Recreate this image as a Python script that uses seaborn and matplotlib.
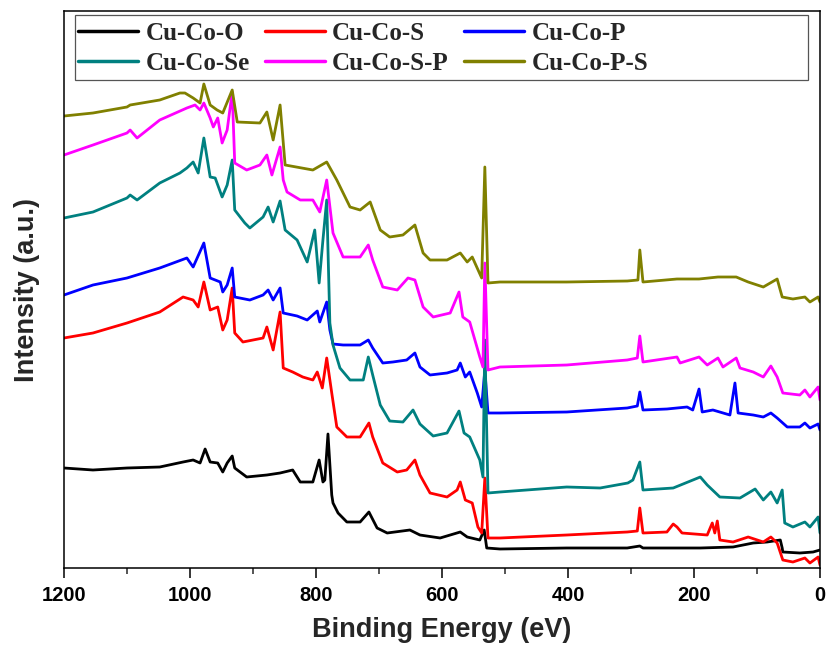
import matplotlib
matplotlib.use("Agg")
import matplotlib.pyplot as plt
from matplotlib.lines import Line2D
from matplotlib.patches import Rectangle
from matplotlib.ticker import MultipleLocator
import pandas as pd
import seaborn as sns

# XPS survey spectra (binding energy in eV, intensity in arbitrary units, stacked)
samples = ["Cu-Co-O", "Cu-Co-S", "Cu-Co-P", "Cu-Co-Se", "Cu-Co-S-P", "Cu-Co-P-S"]
colors = ["#000000", "#ff0000", "#0000ff", "#008080", "#ff00ff", "#808000"]

energy_o = [1200, 1154, 1100, 1048, 1011, 995, 984, 976, 968, 956, 948, 941, 933, 929, 910,
            878, 857, 837, 825, 805, 795, 789, 786, 781, 775, 773, 765, 751, 730, 716, 703,
            687, 651, 635, 603, 571, 560, 540, 533, 529, 508, 402, 306, 286, 281, 190, 138,
            106, 84, 63, 60, 59, 32, 11, 0]
intensity_o = [100, 98, 100, 101, 106, 108, 105, 119, 106, 105, 96, 105, 112, 100, 91,
               93, 95, 98, 86, 86, 108, 86, 88, 134, 73, 65, 55, 46, 46, 56, 40,
               35, 38, 33, 30, 36, 31, 28, 38, 20, 19, 20, 20, 22, 20, 20, 21,
               25, 26, 28, 20, 16, 15, 16, 18]

energy_s = [1200, 1154, 1100, 1048, 1011, 995, 987, 978, 968, 956, 948, 941, 933, 929, 916,
            900, 884, 878, 868, 857, 852, 837, 821, 805, 798, 790, 783, 775, 767, 751, 730,
            716, 710, 694, 671, 656, 643, 635, 619, 592, 576, 571, 563, 552, 543, 537, 532,
            527, 508, 402, 306, 290, 286, 281, 243, 233, 227, 219, 179, 171, 167, 163, 159,
            138, 114, 90, 78, 68, 59, 43, 24, 16, 3, 0]
intensity_s = [230, 235, 245, 256, 271, 268, 261, 286, 258, 261, 238, 248, 280, 235, 226,
               228, 230, 241, 218, 256, 200, 196, 191, 188, 196, 180, 210, 175, 141, 131, 131,
               145, 131, 105, 96, 98, 108, 93, 75, 71, 78, 86, 68, 65, 41, 35, 90,
               30, 30, 33, 36, 37, 60, 35, 36, 44, 41, 35, 33, 45, 35, 47, 28,
               26, 31, 26, 31, 25, 8, 6, 10, 5, 11, 3]

energy_p = [1200, 1154, 1100, 1048, 1005, 995, 978, 968, 952, 948, 941, 933, 929, 905, 884,
            876, 868, 857, 852, 830, 814, 798, 794, 783, 778, 773, 757, 730, 717, 710, 694,
            678, 656, 643, 635, 619, 592, 576, 571, 563, 556, 544, 537, 532, 527, 508, 402,
            306, 290, 286, 281, 243, 211, 202, 192, 187, 170, 143, 135, 130, 106, 90, 78,
            68, 52, 32, 24, 16, 3, 0]
intensity_p = [273, 283, 290, 300, 310, 301, 325, 290, 286, 276, 283, 300, 271, 268, 273,
               278, 268, 280, 255, 252, 248, 257, 246, 266, 238, 224, 223, 223, 228, 220, 205,
               206, 208, 215, 201, 193, 195, 198, 205, 191, 196, 175, 161, 198, 155, 155, 156,
               160, 162, 176, 158, 159, 161, 158, 179, 156, 158, 153, 185, 155, 153, 151, 155,
               150, 141, 141, 145, 140, 144, 138]

energy_se = [1200, 1154, 1100, 1095, 1084, 1048, 1016, 1005, 995, 987, 978, 968, 960, 949, 941,
             933, 929, 913, 905, 884, 876, 868, 857, 849, 830, 814, 802, 795, 789, 783, 778,
             773, 762, 746, 735, 725, 717, 710, 698, 683, 662, 646, 635, 614, 592, 573, 565,
             556, 540, 535, 532, 527, 508, 402, 349, 305, 297, 286, 281, 233, 190, 179, 159,
             127, 103, 90, 78, 68, 60, 56, 43, 24, 16, 3, 0]
intensity_se = [350, 356, 370, 373, 368, 385, 395, 400, 406, 395, 430, 391, 390, 371, 383,
                408, 358, 345, 340, 351, 361, 346, 367, 338, 328, 306, 338, 285, 328, 368, 245,
                223, 200, 188, 188, 188, 211, 193, 163, 147, 146, 158, 144, 132, 135, 157, 135,
                131, 108, 91, 228, 75, 76, 81, 80, 85, 88, 106, 78, 80, 91, 83, 71,
                70, 79, 68, 76, 65, 78, 45, 41, 46, 41, 51, 35]

energy_sp = [1200, 1154, 1100, 1095, 1084, 1048, 1005, 992, 984, 978, 968, 963, 956, 949, 941,
             933, 929, 910, 889, 878, 870, 857, 852, 846, 825, 805, 794, 783, 773, 757, 730,
             717, 710, 694, 671, 654, 643, 630, 614, 587, 573, 567, 556, 540, 535, 532, 527,
             508, 402, 306, 290, 286, 281, 227, 222, 192, 179, 162, 154, 133, 127, 106, 90,
             78, 68, 59, 32, 24, 16, 3, 0]
intensity_sp = [413, 423, 435, 438, 430, 448, 460, 463, 458, 465, 450, 441, 450, 425, 438,
                476, 405, 398, 403, 413, 393, 421, 388, 376, 368, 368, 356, 388, 335, 311, 311,
                323, 308, 281, 278, 290, 288, 261, 251, 255, 276, 251, 246, 211, 201, 305, 198,
                201, 203, 208, 210, 232, 206, 211, 205, 211, 203, 210, 201, 210, 200, 196, 191,
                202, 191, 175, 173, 178, 171, 181, 168]

energy_ps = [1200, 1154, 1100, 1095, 1048, 1016, 1008, 995, 984, 978, 968, 957, 948, 933, 925,
             889, 878, 868, 857, 849, 805, 783, 767, 746, 730, 714, 698, 683, 662, 643, 630,
             619, 592, 571, 560, 552, 537, 532, 527, 508, 402, 306, 289, 286, 281, 227, 192,
             162, 133, 114, 90, 68, 60, 43, 24, 16, 3, 0]
intensity_ps = [452, 455, 461, 463, 468, 475, 475, 470, 465, 484, 463, 458, 455, 478, 446,
                445, 456, 428, 463, 403, 398, 406, 388, 361, 358, 366, 338, 331, 333, 343, 315,
                308, 308, 315, 306, 311, 290, 401, 285, 286, 286, 287, 288, 318, 286, 289, 289,
                291, 291, 286, 281, 289, 271, 269, 271, 266, 271, 266]

energies = [energy_o, energy_s, energy_p, energy_se, energy_sp, energy_ps]
intensities = [intensity_o, intensity_s, intensity_p, intensity_se, intensity_sp, intensity_ps]

sns.set_style("ticks")
plt.rcParams["font.family"] = ["Liberation Sans", "DejaVu Sans"]
plt.rcParams["font.weight"] = "bold"
plt.rcParams["axes.labelweight"] = "bold"

df = pd.concat(
    [pd.DataFrame({"Binding Energy": e, "Intensity": i, "Sample": s})
     for s, e, i in zip(samples, energies, intensities)],
    ignore_index=True,
)

fig = plt.figure(figsize=(8.27, 6.57), dpi=100)
ax = fig.add_axes([64 / 827, 1 - 568 / 657, 756 / 827, 557 / 657])

palette = dict(zip(samples, colors))
sns.lineplot(data=df, x="Binding Energy", y="Intensity", hue="Sample",
             hue_order=samples, palette=palette, estimator=None,
             linewidth=2.0, legend=False, ax=ax)

ax.set_xlim(1200, 0)
ax.set_ylim(0, 557)
ax.set_yticks([])
ax.xaxis.set_major_locator(MultipleLocator(200))
ax.xaxis.set_minor_locator(MultipleLocator(100))
ax.tick_params(axis="x", which="major", direction="out", length=7, width=1.1,
               labelsize=14.5, pad=6, colors="black")
ax.tick_params(axis="x", which="minor", direction="out", length=4, width=1.1)
ax.tick_params(top=False, right=False, left=False)
for lbl in ax.get_xticklabels():
    lbl.set_fontweight("bold")
for sp in ax.spines.values():
    sp.set_visible(True)
    sp.set_color("black")
    sp.set_linewidth(1.1)

ax.set_xlabel("Binding Energy (eV)", fontsize=19.5, fontweight="bold")
ax.set_ylabel("Intensity (a.u.)", fontsize=19.5, fontweight="bold")
ax.xaxis.set_label_coords(0.5, -0.088)
ax.yaxis.set_label_coords(-0.032, 0.5)

# legend laid out in rows of three, framed by a separate box
order = [0, 3, 1, 4, 2, 5]
handles = [Line2D([], [], color=colors[k], linewidth=2.5) for k in order]
labels = [samples[k] for k in order]
ax.legend(handles, labels, ncol=3, loc="upper left", bbox_to_anchor=(0.0185, 0.981),
          frameon=False, prop={"family": "Liberation Serif", "weight": "bold", "size": 18},
          handlelength=2.4, handletextpad=0.3, columnspacing=0.6, labelspacing=0.3,
          borderaxespad=0, borderpad=0)
ax.add_patch(Rectangle((0.0146, 0.876), 0.984 - 0.0146, 0.9928 - 0.876,
                       transform=ax.transAxes, fill=False, edgecolor="#555555",
                       linewidth=0.9, zorder=5))

fig.savefig("out.png", dpi=100)
